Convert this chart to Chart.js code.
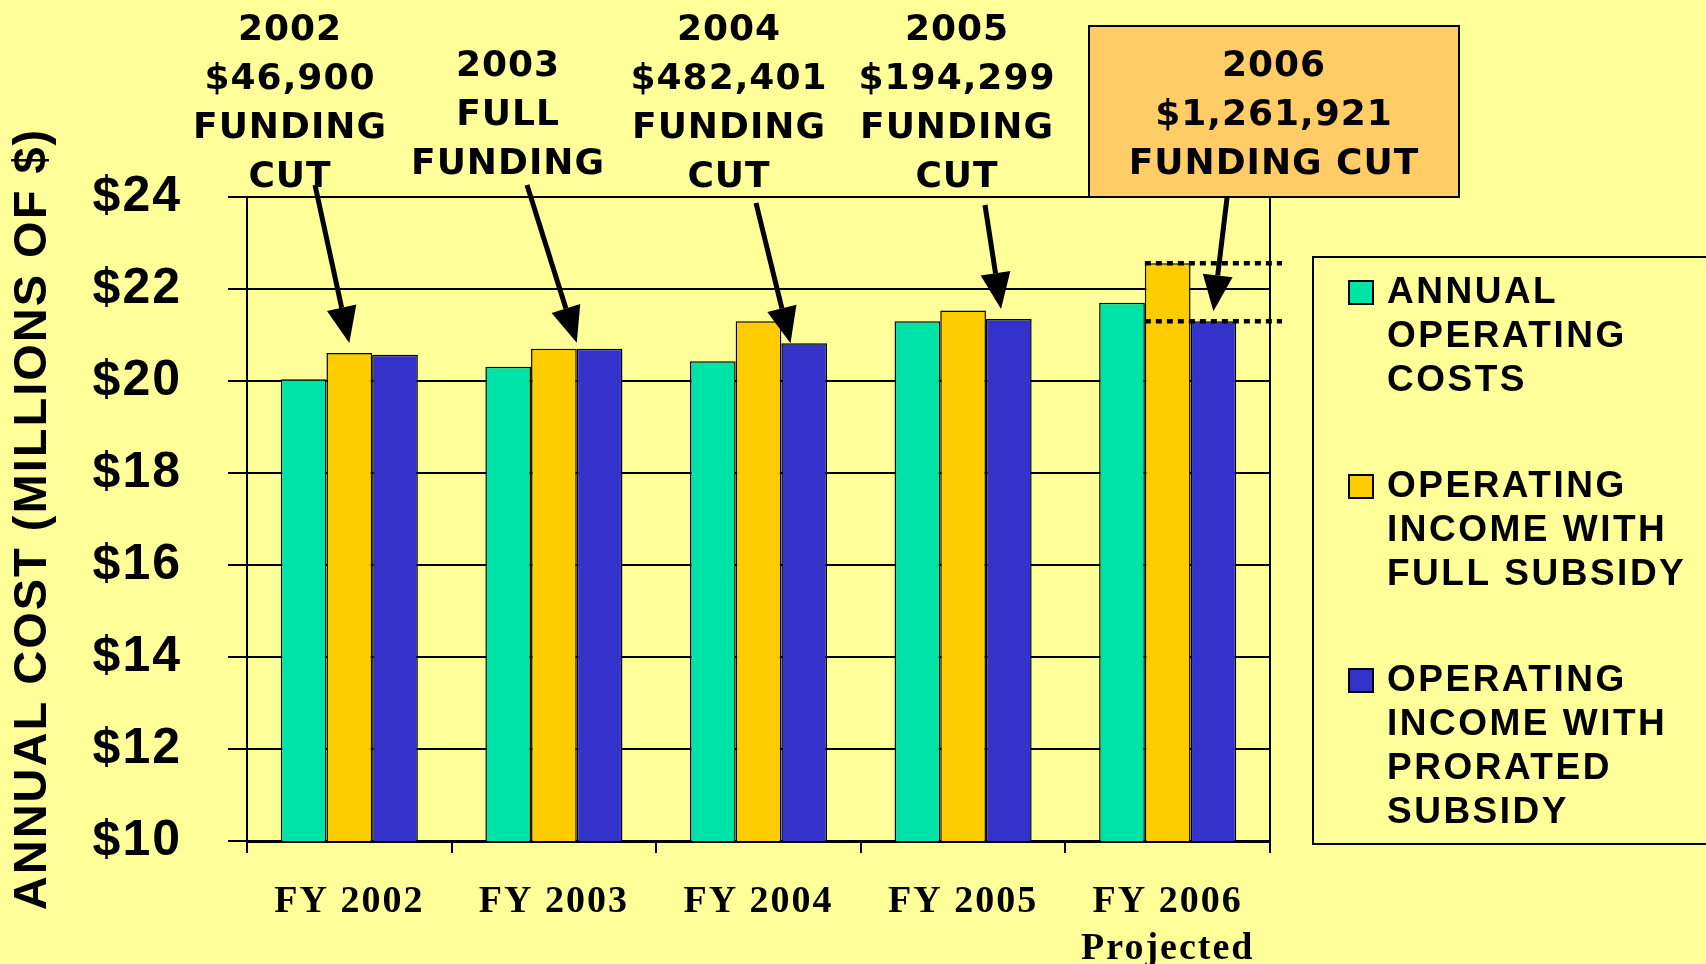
<!DOCTYPE html>
<html>
<head>
<meta charset="utf-8">
<title>Annual cost</title>
<script src="https://cdn.jsdelivr.net/npm/chart.js"></script>
<style>
    html, body { margin: 0; padding: 0; background: #FFFF99; overflow: hidden; }
    #wrap { width: 1706px; height: 964px; }
</style>
</head>
<body>
<div id="wrap"><canvas id="costChart" width="1706" height="964"></canvas></div>
<script>
// Chart data
const categories = [["FY 2002"], ["FY 2003"], ["FY 2004"], ["FY 2005"], ["FY 2006", "Projected"]];
const operatingCosts = [20.04, 20.31, 20.43, 21.30, 21.70];
const incomeFullSubsidy = [20.61, 20.70, 21.30, 21.53, 22.56];
const incomeProratedSubsidy = [20.57, 20.70, 20.82, 21.35, 21.30];
const seriesNames = [
    ["ANNUAL", "OPERATING", "COSTS"],
    ["OPERATING", "INCOME WITH", "FULL SUBSIDY"],
    ["OPERATING", "INCOME WITH", "PRORATED", "SUBSIDY"]
];
const seriesColors = ["#00E3A8", "#FFCC00", "#3333CC"];
const yTicks = [10, 12, 14, 16, 18, 20, 22, 24];
const callouts = [
    ["2002", "$46,900", "FUNDING", "CUT"],
    ["2003", "FULL", "FUNDING"],
    ["2004", "$482,401", "FUNDING", "CUT"],
    ["2005", "$194,299", "FUNDING", "CUT"],
    ["2006", "$1,261,921", "FUNDING CUT"]
];

// where each callout sits and which bar its arrow points at
const calloutLayout = [
    { x: 290, y: 31, from: [315, 185], ds: 1, frac: 0.5, gap: 10 },
    { x: 508, y: 67, from: [527, 185], ds: 1, frac: 1.0, gap: 6 },
    { x: 729, y: 31, from: [756, 203], ds: 2, frac: 0.2, gap: 0 },
    { x: 957, y: 31, from: [985, 205], ds: 2, frac: 0.33, gap: 10 },
    { x: 1274, y: 67, from: [1227, 198], ds: 2, frac: 0.5, gap: 10, box: [1089, 26, 370, 171] }
];

function drawArrow(ctx, x0, y0, x1, y1) {
    const ang = Math.atan2(y1 - y0, x1 - x0);
    const headLen = 36, headW = 15;
    const bx = x1 - headLen * Math.cos(ang);
    const by = y1 - headLen * Math.sin(ang);
    ctx.beginPath();
    ctx.moveTo(x0, y0);
    ctx.lineTo(bx, by);
    ctx.lineWidth = 5;
    ctx.stroke();
    ctx.beginPath();
    ctx.moveTo(x1, y1);
    ctx.lineTo(bx + headW * Math.sin(ang), by - headW * Math.cos(ang));
    ctx.lineTo(bx - headW * Math.sin(ang), by + headW * Math.cos(ang));
    ctx.closePath();
    ctx.fill();
}

const overlay = {
    id: "overlay",
    beforeDraw(chart) {
        chart.ctx.letterSpacing = "2px";
    },
    afterDatasetsDraw(chart) {
        const ctx = chart.ctx;
        const area = chart.chartArea;
        ctx.save();
        // right border of plot
        ctx.strokeStyle = "#000";
        ctx.lineWidth = 2;
        ctx.beginPath();
        ctx.moveTo(area.right, area.top);
        ctx.lineTo(area.right, area.bottom);
        ctx.stroke();

        // dotted lines on the last group (full vs prorated)
        const last = categories.length - 1;
        const yellow = chart.getDatasetMeta(1).data[last].getProps(["x", "y", "width"], true);
        const blue = chart.getDatasetMeta(2).data[last].getProps(["x", "y", "width"], true);
        ctx.setLineDash([6, 5]);
        ctx.lineWidth = 4.5;
        [yellow.y, blue.y].forEach(y => {
            ctx.beginPath();
            ctx.moveTo(yellow.x - yellow.width / 2, y);
            ctx.lineTo(area.right + 12, y);
            ctx.stroke();
        });
        ctx.restore();
    },
    afterDraw(chart) {
        const ctx = chart.ctx;
        ctx.save();
        ctx.fillStyle = "#000";
        ctx.strokeStyle = "#000";

        // callout boxes, text and arrows
        callouts.forEach((lines, i) => {
            const lay = calloutLayout[i];
            if (lay.box) {
                ctx.fillStyle = "#FFCC66";
                ctx.fillRect(lay.box[0], lay.box[1], lay.box[2], lay.box[3]);
                ctx.lineWidth = 2;
                ctx.strokeRect(lay.box[0], lay.box[1], lay.box[2], lay.box[3]);
                ctx.fillStyle = "#000";
            }
            ctx.font = 'bold 36px "DejaVu Sans"';
            ctx.letterSpacing = "1px";
            ctx.textAlign = "center";
            ctx.textBaseline = "middle";
            lines.forEach((t, j) => ctx.fillText(t, lay.x, lay.y + j * 49));

            const bar = chart.getDatasetMeta(lay.ds).data[i].getProps(["x", "y", "width"], true);
            const tx = bar.x - bar.width / 2 + lay.frac * bar.width;
            const ty = bar.y - lay.gap;
            drawArrow(ctx, lay.from[0], lay.from[1], tx, ty);
        });

        // legend
        ctx.lineWidth = 2;
        ctx.strokeRect(1313, 257, 420, 587);
        ctx.font = 'bold 37px "Liberation Sans"';
        ctx.letterSpacing = "2.5px";
        ctx.textAlign = "left";
        ctx.textBaseline = "middle";
        let y = 293;
        chart.data.datasets.forEach((ds, k) => {
            ctx.fillStyle = ds.backgroundColor;
            ctx.fillRect(1349, y - 12, 24, 23);
            ctx.lineWidth = 2;
            ctx.strokeRect(1349, y - 12, 24, 23);
            ctx.fillStyle = "#000";
            seriesNames[k].forEach((t, j) => ctx.fillText(t, 1387, y + j * 44));
            y += seriesNames[k].length * 44 + 62;
        });
        ctx.restore();
    }
};

const ctx = document.getElementById("costChart").getContext("2d");
new Chart(ctx, {
    type: "bar",
    data: {
        labels: categories,
        datasets: [
            { label: seriesNames[0].join(" "), data: operatingCosts, backgroundColor: seriesColors[0] },
            { label: seriesNames[1].join(" "), data: incomeFullSubsidy, backgroundColor: seriesColors[1] },
            { label: seriesNames[2].join(" "), data: incomeProratedSubsidy, backgroundColor: seriesColors[2] }
        ]
    },
    options: {
        responsive: false,
        animation: false,
        devicePixelRatio: 1,
        layout: { padding: { left: 0, top: 197, right: 436, bottom: 0 } },
        datasets: {
            bar: {
                categoryPercentage: 0.67,
                barPercentage: 1.0,
                borderColor: "#000",
                borderWidth: 1.5
            }
        },
        plugins: {
            legend: { display: false },
            tooltip: { enabled: false }
        },
        scales: {
            x: {
                grid: { drawOnChartArea: false, drawTicks: true, tickLength: 12, color: "#000", lineWidth: 2, offset: true },
                border: { display: true, color: "#000", width: 3 },
                ticks: {
                    color: "#000",
                    maxRotation: 0,
                    autoSkip: false,
                    padding: 26,
                    font: { family: "Liberation Serif", weight: "bold", size: 38, lineHeight: "47px" }
                },
                afterFit: s => { s.height = 123; }
            },
            y: {
                min: yTicks[0],
                max: yTicks[yTicks.length - 1],
                afterBuildTicks: s => { s.ticks = yTicks.map(v => ({ value: v })); },
                grid: { color: "#000", lineWidth: 2, tickLength: 19, drawTicks: true },
                border: { color: "#000", width: 2 },
                ticks: {
                    color: "#000",
                    padding: 46,
                    font: { family: "Liberation Sans", weight: "bold", size: 50 },
                    callback: v => "$" + v
                },
                title: {
                    display: true,
                    text: "ANNUAL COST (MILLIONS OF $)",
                    color: "#000",
                    font: { family: "Liberation Sans", weight: "bold", size: 47, lineHeight: 1.2 },
                    padding: { top: 5, bottom: 0 }
                },
                afterFit: s => { s.width = 247; }
            }
        }
    },
    plugins: [overlay]
});
</script>
</body>
</html>
